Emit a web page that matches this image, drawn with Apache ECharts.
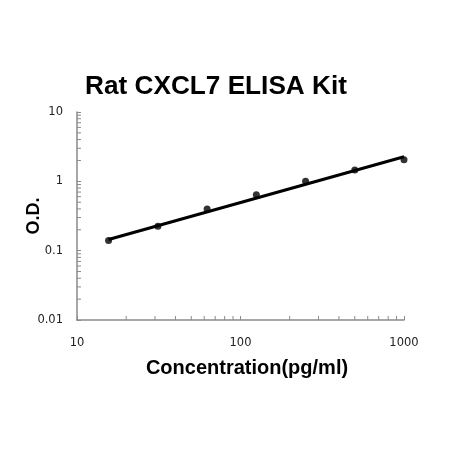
<!DOCTYPE html>
<html><head><meta charset="utf-8">
<script src="https://cdn.jsdelivr.net/npm/echarts@6/dist/echarts.min.js"></script>
<style>html,body{margin:0;padding:0;background:#fff}#c{width:450px;height:450px}</style>
</head><body><div id="c"></div>
<script>
const concentrations = [15.6, 31.25, 62.5, 125, 250, 500, 1000];
const odValues = [0.14, 0.225, 0.40, 0.64, 1.0, 1.46, 2.04];
const trendX = [15.6, 1000];
const trendY = [0.145, 2.26];
const xMinorTicks = [20,30,40,50,60,70,80,90,200,300,400,500,600,700,800,900];
const yMinorTicks = [0.02,0.03,0.04,0.05,0.06,0.07,0.08,0.09,0.2,0.3,0.4,0.5,0.6,0.7,0.8,0.9,2,3,4,5,6,7,8,9];

const chart = echarts.init(document.getElementById('c'));
const axisColor = '#8a8a8a';
chart.setOption({
  animation: false,
  title: {
    text: 'Rat CXCL7 ELISA Kit', left: 211, top: 69, textAlign: 'center',
    textStyle: {fontFamily: 'Liberation Sans, Arial', fontWeight: 'bold', fontSize: 26.2, color: '#000'}
  },
  grid: {left: 77, right: 46, top: 112, bottom: 130},
  xAxis: {
    type: 'log', min: 10, max: 1000, logBase: 10,
    name: 'Concentration(pg/ml)', nameLocation: 'middle', nameGap: 38, nameMoveOverlap: false,
    nameTextStyle: {fontFamily: 'Liberation Sans, Arial', fontWeight: 'bold', fontSize: 20, color: '#000', padding: [0,0,0,13]},
    axisLine: {lineStyle: {color: axisColor, width: 1.5}},
    axisTick: {inside: true, length: 4, lineStyle: {color: axisColor}},
    axisLabel: {margin: 17, fontFamily: 'DejaVu Sans', fontSize: 11.5, color: '#222',
      formatter: v => String(v)},
    splitLine: {show: false}
  },
  yAxis: {
    type: 'log', min: 0.01, max: 10, logBase: 10,
    name: 'O.D.', nameLocation: 'middle', nameGap: 34, nameRotate: 90, nameMoveOverlap: false,
    nameTextStyle: {fontFamily: 'Liberation Sans, Arial', fontWeight: 'bold', fontSize: 18, color: '#000'},
    axisLine: {show: true, lineStyle: {color: axisColor, width: 1.5}},
    axisTick: {show: true, inside: true, length: 4, lineStyle: {color: axisColor}},
    axisLabel: {margin: 14, fontFamily: 'DejaVu Sans', fontSize: 11.5, color: '#222',
      formatter: v => String(v)},
    splitLine: {show: false}
  },
  series: [
    {
      type: 'custom', silent: true, clip: false,
      data: xMinorTicks.map(v => [v, 0.01]),
      renderItem: (params, api) => {
        const p = api.coord([api.value(0), api.value(1)]);
        return {type: 'line', shape: {x1: p[0], y1: p[1], x2: p[0], y2: p[1] - 4}, style: {stroke: axisColor, lineWidth: 1}};
      }
    },
    {
      type: 'custom', silent: true, clip: false,
      data: yMinorTicks.map(v => [10, v]),
      renderItem: (params, api) => {
        const p = api.coord([api.value(0), api.value(1)]);
        return {type: 'line', shape: {x1: p[0], y1: p[1], x2: p[0] + 4, y2: p[1]}, style: {stroke: axisColor, lineWidth: 1}};
      }
    },
    {
      type: 'line', data: trendX.map((x, i) => [x, trendY[i]]),
      showSymbol: false, lineStyle: {color: '#000', width: 3}
    },
    {
      type: 'scatter', data: concentrations.map((x, i) => [x, odValues[i]]),
      symbol: 'circle', symbolSize: 7, itemStyle: {color: '#000'}, z: 5
    }
  ]
});
</script></body></html>
